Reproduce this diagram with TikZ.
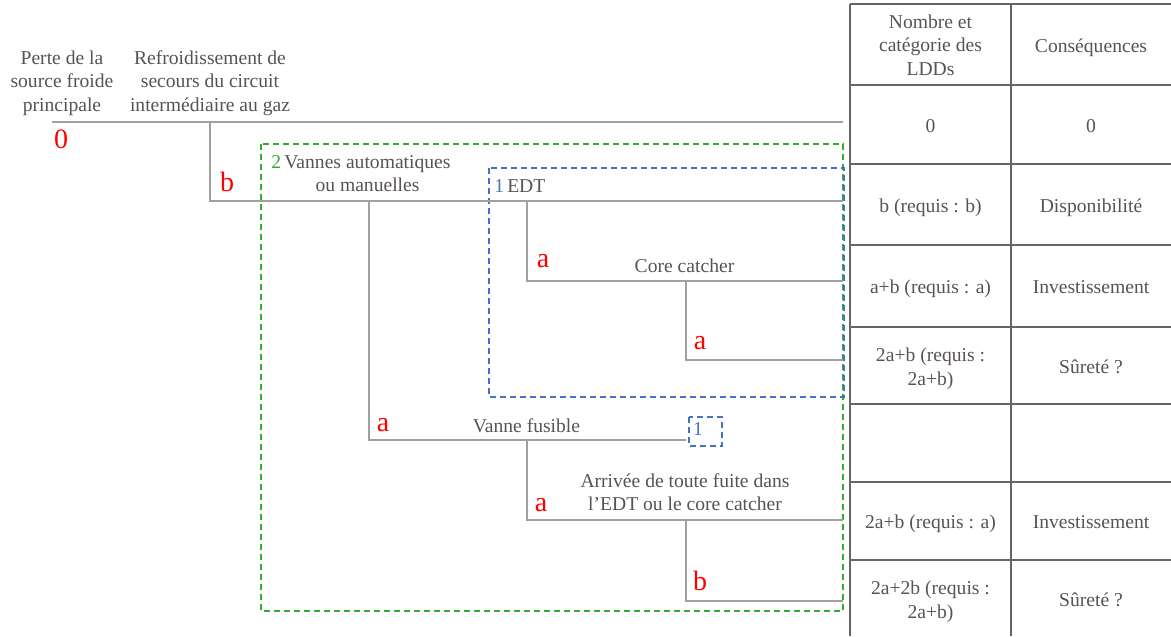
\documentclass[tikz,border=0pt]{standalone}
\usepackage{fontspec}
\setmainfont{Liberation Serif}
\newfontfamily\tnr{Liberation Serif}
\definecolor{txtc}{RGB}{89,83,80}
\definecolor{treec}{RGB}{160,160,160}
\definecolor{gridc}{RGB}{105,100,97}
\definecolor{greenc}{RGB}{51,170,51}
\definecolor{bluec}{RGB}{68,114,196}
\definecolor{redc}{RGB}{255,0,0}
\begin{document}
\begin{tikzpicture}[x=0.75pt,y=-0.75pt,
  txt/.style={text=txtc, font=\tnr\fontsize{14.7}{17.6}\selectfont, inner sep=0pt, align=center},
  lbl/.style={text=redc, font=\tnr\fontsize{21}{24}\selectfont, inner sep=0pt, anchor=base},
  num/.style={font=\tnr\fontsize{14.7}{17.6}\selectfont, inner sep=0pt, anchor=base},
  tree/.style={draw=treec, line width=1.1pt},
  gridl/.style={draw=gridc, line width=1.5pt},
  gbox/.style={draw=greenc, dash pattern=on 4.5pt off 3pt, line width=1.1pt},
  bbox/.style={draw=bluec, dash pattern=on 4.5pt off 3pt, line width=1.1pt}]
\useasboundingbox (0,0) rectangle (1171,636);

% ---- table ----
\foreach \yy in {4,85,164,245,327,404,482,560}
  \draw[gridl] (850,\yy) -- (1171,\yy);
\draw[gridl] (850,4) -- (850,636);
\draw[gridl] (1011,4) -- (1011,636);

\node[txt] (h1) at (930.5,45) {Nombre et\\catégorie des\\LDDs};
\node[txt,anchor=base] (h2) at (1091,52) {Conséquences};
\node[txt,anchor=base] (r1a) at (930.5,132) {0};
\node[txt,anchor=base] (r1b) at (1091,132) {0};
\node[txt,anchor=base] (r2a) at (930.5,212) {b (requis : b)};
\node[txt,anchor=base] (r2b) at (1091,212) {Disponibilité};
\node[txt,anchor=base] (r3a) at (930.5,293) {a+b (requis : a)};
\node[txt,anchor=base] (r3b) at (1091,293) {Investissement};
\node[txt] (r4a) at (930.5,369) {2a+b (requis :\\2a+b)};
\node[txt,anchor=base] (r4b) at (1091,373) {Sûreté ?};
\node[txt,anchor=base] (r6a) at (930.5,528) {2a+b (requis : a)};
\node[txt,anchor=base] (r6b) at (1091,528) {Investissement};
\node[txt] (r7a) at (930.5,602) {2a+2b (requis :\\2a+b)};
\node[txt,anchor=base] (r7b) at (1091,606) {Sûreté ?};

% ---- dashed boxes ----
\coordinate (gA) at (261,144); \coordinate (gB) at (843,611);
\coordinate (bA) at (489,168); \coordinate (bB) at (844,397);
\coordinate (sA) at (689,417); \coordinate (sB) at (722,446);
\draw[gbox] (gA) rectangle (gB);
\draw[bbox] (bA) rectangle (bB);
\draw[bbox] (sA) rectangle (sB);

% ---- tree ----
\coordinate (t0) at (52,122);  \coordinate (t0e) at (843,122);
\coordinate (b0) at (210,122); \coordinate (b1) at (210,201); \coordinate (b1e) at (843,201);
\coordinate (v0) at (369,201); \coordinate (v1) at (369,440); \coordinate (v1e) at (686,440);
\coordinate (e0) at (527,201); \coordinate (e1) at (527,281); \coordinate (e1e) at (843,281);
\coordinate (c0) at (686,281); \coordinate (c1) at (686,360); \coordinate (c1e) at (843,360);
\coordinate (f0) at (527,440); \coordinate (f1) at (527,520); \coordinate (f1e) at (843,520);
\coordinate (k0) at (686,520); \coordinate (k1) at (686,601); \coordinate (k1e) at (843,601);

\draw[tree] (t0) -- (t0e);
\draw[tree] (b0) -- (b1) -- (b1e);
\draw[tree] (v0) -- (v1) -- (v1e);
\draw[tree] (e0) -- (e1) -- (e1e);
\draw[tree] (c0) -- (c1) -- (c1e);
\draw[tree] (f0) -- (f1) -- (f1e);
\draw[tree] (k0) -- (k1) -- (k1e);

% ---- tree texts ----
\node[txt] (perte) at (62,83) {Perte de la\\source froide\\principale};
\node[txt] (refr) at (210,83) {Refroidissement de\\secours du circuit\\intermédiaire au gaz};
\node[txt] (vannes) at (367.5,173.5) {Vannes automatiques\\ou manuelles};
\node[num,text=greenc,anchor=base west] (two) at (271,168) {2};
\node[num,text=bluec,anchor=base west] (one) at (494,192) {1};
\node[txt,anchor=base west] (edt) at (507,192) {EDT};
\node[txt,anchor=base] (core) at (684.5,272) {Core catcher};
\node[txt,anchor=base] (fus) at (526.5,432) {Vanne fusible};
\node[num,text=bluec,anchor=base] (oneb) at (698,435) {1};
\node[txt] (arr) at (685,492) {Arrivée de toute fuite dans\\l’EDT ou le core catcher};

\node[lbl] (l0) at (61,148) {0};
\node[lbl] (lb1) at (227,191) {b};
\node[lbl] (la1) at (543,267) {a};
\node[lbl] (la2) at (700,349) {a};
\node[lbl] (la3) at (383,431) {a};
\node[lbl] (la4) at (541,511) {a};
\node[lbl] (lb2) at (700,590) {b};
\end{tikzpicture}
\end{document}
